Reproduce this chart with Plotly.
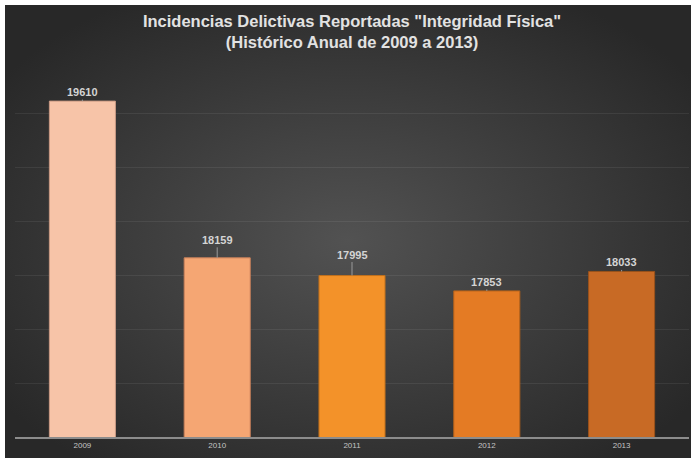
import base64
import plotly.graph_objects as go

years = ['2009', '2010', '2011', '2012', '2013']
incidencias = [19610, 18159, 17995, 17853, 18033]
bar_colors = ['#f7c4a8', '#f5a673', '#f39229', '#e47b24', '#c86a25']
edge_colors = ['#c99a84', '#c9805a', '#c0701c', '#b0601a', '#9a521b']
label_offsets = [-9, -18, -21, -9, -9]

W, H = 691, 458
ml, mr, mt, mb = 15, 2, 59, 21

# fondo con degradado radial (svg embebido)
svg = ("<svg xmlns='http://www.w3.org/2000/svg' width='686' height='453'>"
       "<defs><radialGradient id='g' cx='50%' cy='52%' r='62%'>"
       "<stop offset='0' stop-color='#525252'/>"
       "<stop offset='1' stop-color='#282828'/>"
       "</radialGradient></defs>"
       "<rect width='100%' height='100%' fill='url(#g)'/></svg>")
bg_src = 'data:image/svg+xml;base64,' + base64.b64encode(svg.encode()).decode()

pw = W - ml - mr
ph = H - mt - mb

fig = go.Figure()
fig.add_trace(go.Bar(
    x=years, y=incidencias,
    marker=dict(color=bar_colors, line=dict(color=edge_colors, width=1)),
    width=0.49,
    hoverinfo='x+y',
))

# etiquetas con linea guia (x = indice de categoria)
for i, (val, off) in enumerate(zip(incidencias, label_offsets)):
    fig.add_annotation(
        x=i, y=val, text='<b>' + str(val) + '</b>',
        showarrow=True, arrowhead=0, arrowwidth=1, arrowcolor='#9a9a9a',
        ax=0, ay=off, font=dict(family='Liberation Sans', size=11, color='#d4d4d4'),
    )

fig.update_layout(
    width=W, height=H,
    margin=dict(l=ml, r=mr, t=mt, b=mb),
    paper_bgcolor='white',
    plot_bgcolor='rgba(0,0,0,0)',
    showlegend=False,
    title=dict(
        text='<b>Incidencias Delictivas Reportadas "Integridad Física"<br>(Histórico Anual de 2009 a 2013)</b>',
        x=0.5, xref='paper', xanchor='center',
        y=1 - 27 / H, yanchor='middle',
        font=dict(family='Liberation Sans', size=16.5, color='#e2e2e2'),
    ),
    images=[dict(
        source=bg_src, xref='paper', yref='paper',
        x=(5 - ml) / pw, y=(H - mb - 5) / ph,
        sizex=(W - 5) / pw, sizey=(H - 5) / ph,
        xanchor='left', yanchor='top', sizing='stretch', layer='below',
    )],
    xaxis=dict(
        type='category', range=[-0.5, 4.5],
        showline=True, linecolor='#8c8c8c', linewidth=1.5,
        ticks='', tickfont=dict(family='Liberation Sans Narrow, Liberation Sans', size=8, color='#c4c4c4'),
        showgrid=False,
    ),
    yaxis=dict(
        range=[16500, 20000], dtick=500,
        showgrid=True, gridcolor='rgba(255,255,255,0.07)', gridwidth=1,
        showticklabels=False, zeroline=False, showline=False,
    ),
)

fig.write_html('out.html', config={'displayModeBar': False},
               post_script="document.body.style.margin='0px';")
